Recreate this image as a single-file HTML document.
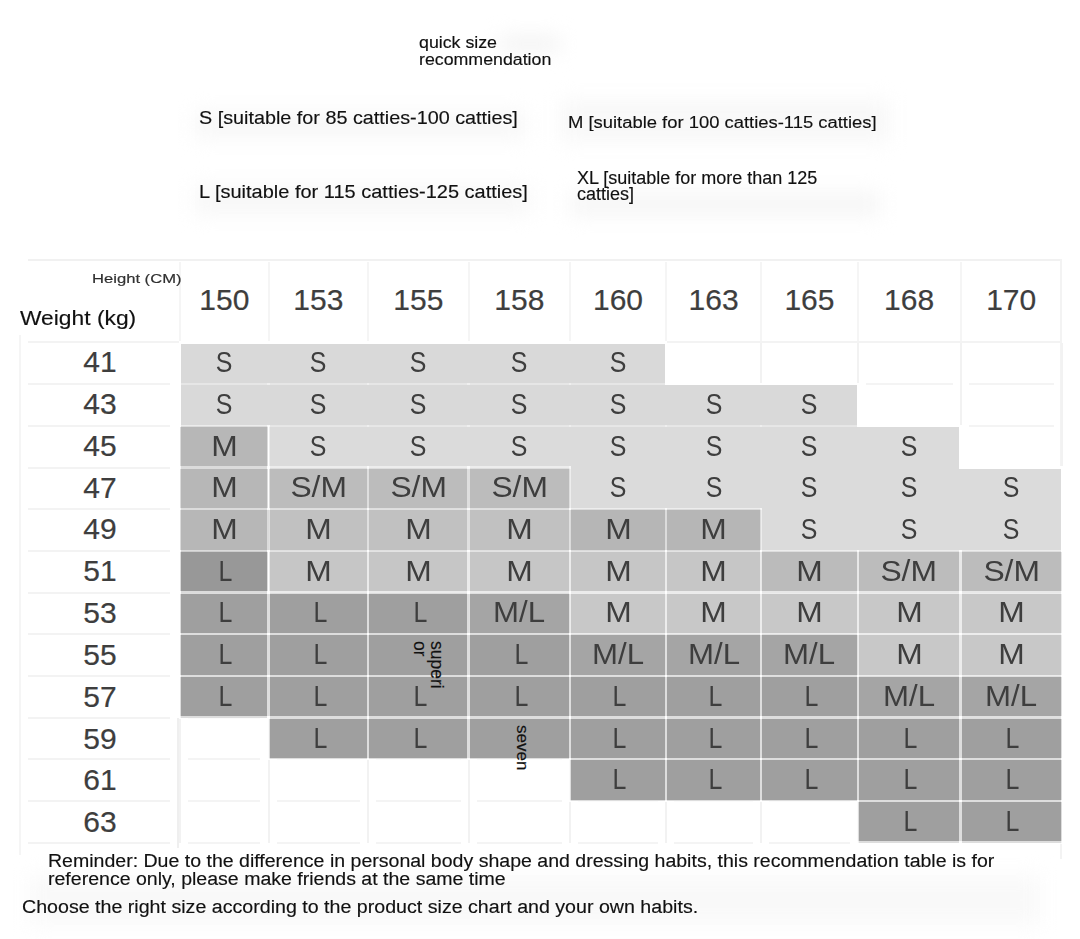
<!DOCTYPE html><html><head><meta charset="utf-8"><style>
*{margin:0;padding:0;box-sizing:border-box}
html,body{width:1080px;height:939px;background:#fff;overflow:hidden;position:relative;font-family:"Liberation Sans",sans-serif}
.c{position:absolute}
.t{position:absolute;white-space:nowrap;color:#3e3e3e;font-size:30px;line-height:30px;text-align:center;-webkit-text-stroke:0px #383838}
.t span{display:inline-block}
.d{-webkit-text-stroke:0.2px #383838}
.o{position:absolute;white-space:nowrap;color:#111;transform-origin:0 0;-webkit-text-stroke:0.15px #111}
.ln{position:absolute;background:#fff}
.fl{position:absolute;background:#f1f1f1}
</style></head><body>
<div class="fl" style="left:177px;top:718px;width:2px;height:130px;background:#efefef"></div>
<div class="fl" style="left:195px;top:112px;width:330px;height:26px;background:#f7f7f7;filter:blur(10px)"></div>
<div class="fl" style="left:195px;top:186px;width:335px;height:28px;background:#f7f7f7;filter:blur(10px)"></div>
<div class="fl" style="left:560px;top:100px;width:330px;height:42px;background:#f8f8f8;filter:blur(10px)"></div>
<div class="fl" style="left:570px;top:192px;width:310px;height:24px;background:#f6f6f6;filter:blur(10px)"></div>
<div class="fl" style="left:500px;top:38px;width:60px;height:12px;background:#efefef;filter:blur(10px)"></div>
<div class="fl" style="left:30px;top:875px;width:1010px;height:50px;background:#f9f9f9;filter:blur(10px)"></div>
<div class="fl" style="left:28px;top:259px;width:1034px;height:2px"></div>
<div class="fl" style="left:179.2px;top:262px;width:2px;height:80px;background:#f5f5f5"></div>
<div class="fl" style="left:267.5px;top:262px;width:2px;height:80px;background:#f5f5f5"></div>
<div class="fl" style="left:367.2px;top:262px;width:2px;height:80px;background:#f5f5f5"></div>
<div class="fl" style="left:467.6px;top:262px;width:2px;height:80px;background:#f5f5f5"></div>
<div class="fl" style="left:569.1px;top:262px;width:2px;height:80px;background:#f5f5f5"></div>
<div class="fl" style="left:665.0px;top:262px;width:2px;height:80px;background:#f5f5f5"></div>
<div class="fl" style="left:760.2px;top:262px;width:2px;height:80px;background:#f5f5f5"></div>
<div class="fl" style="left:856.7px;top:262px;width:2px;height:80px;background:#f5f5f5"></div>
<div class="fl" style="left:959.6px;top:262px;width:2px;height:80px;background:#f5f5f5"></div>
<div class="fl" style="left:1060px;top:259px;width:2px;height:600px;background:#f3f3f3"></div>
<div class="fl" style="left:19px;top:335px;width:2px;height:520px;background:#f5f5f5"></div>
<div class="fl" style="left:28px;top:383.18px;width:142px;height:2px;background:#f3f3f3"></div>
<div class="fl" style="left:28px;top:424.86px;width:142px;height:2px;background:#f3f3f3"></div>
<div class="fl" style="left:28px;top:466.54px;width:142px;height:2px;background:#f3f3f3"></div>
<div class="fl" style="left:28px;top:508.22px;width:142px;height:2px;background:#f3f3f3"></div>
<div class="fl" style="left:28px;top:549.9px;width:142px;height:2px;background:#f3f3f3"></div>
<div class="fl" style="left:28px;top:591.58px;width:142px;height:2px;background:#f3f3f3"></div>
<div class="fl" style="left:28px;top:633.26px;width:142px;height:2px;background:#f3f3f3"></div>
<div class="fl" style="left:28px;top:674.94px;width:142px;height:2px;background:#f3f3f3"></div>
<div class="fl" style="left:28px;top:716.62px;width:142px;height:2px;background:#f3f3f3"></div>
<div class="fl" style="left:28px;top:758.3px;width:142px;height:2px;background:#f3f3f3"></div>
<div class="fl" style="left:28px;top:799.98px;width:142px;height:2px;background:#f3f3f3"></div>
<div class="fl" style="left:28px;top:841.66px;width:142px;height:2px;background:#f3f3f3"></div>
<div class="fl" style="left:28px;top:340.5px;width:1034px;height:2px;background:#f3f3f3"></div>
<div class="fl" style="left:665.0px;top:342.5px;width:2px;height:41.68px;background:#f2f2f2"></div>
<div class="fl" style="left:760.2px;top:342.5px;width:2px;height:41.68px;background:#f2f2f2"></div>
<div class="fl" style="left:856.7px;top:342.5px;width:2px;height:41.68px;background:#f2f2f2"></div>
<div class="fl" style="left:959.6px;top:342.5px;width:2px;height:41.68px;background:#f2f2f2"></div>
<div class="fl" style="left:1060.8px;top:342.5px;width:2px;height:41.68px;background:#f2f2f2"></div>
<div class="fl" style="left:856.7px;top:384.18px;width:2px;height:41.68px;background:#f2f2f2"></div>
<div class="fl" style="left:959.6px;top:384.18px;width:2px;height:41.68px;background:#f2f2f2"></div>
<div class="fl" style="left:1060.8px;top:384.18px;width:2px;height:41.68px;background:#f2f2f2"></div>
<div class="fl" style="left:959.6px;top:425.86px;width:2px;height:41.68px;background:#f2f2f2"></div>
<div class="fl" style="left:1060.8px;top:425.86px;width:2px;height:41.68px;background:#f2f2f2"></div>
<div class="fl" style="left:179.2px;top:717.62px;width:2px;height:41.68px;background:#f2f2f2"></div>
<div class="fl" style="left:267.5px;top:717.62px;width:2px;height:41.68px;background:#f2f2f2"></div>
<div class="fl" style="left:179.2px;top:759.3px;width:2px;height:41.68px;background:#f2f2f2"></div>
<div class="fl" style="left:267.5px;top:759.3px;width:2px;height:41.68px;background:#f2f2f2"></div>
<div class="fl" style="left:367.2px;top:759.3px;width:2px;height:41.68px;background:#f2f2f2"></div>
<div class="fl" style="left:467.6px;top:759.3px;width:2px;height:41.68px;background:#f2f2f2"></div>
<div class="fl" style="left:569.1px;top:759.3px;width:2px;height:41.68px;background:#f2f2f2"></div>
<div class="fl" style="left:179.2px;top:800.98px;width:2px;height:41.68px;background:#f2f2f2"></div>
<div class="fl" style="left:267.5px;top:800.98px;width:2px;height:41.68px;background:#f2f2f2"></div>
<div class="fl" style="left:367.2px;top:800.98px;width:2px;height:41.68px;background:#f2f2f2"></div>
<div class="fl" style="left:467.6px;top:800.98px;width:2px;height:41.68px;background:#f2f2f2"></div>
<div class="fl" style="left:569.1px;top:800.98px;width:2px;height:41.68px;background:#f2f2f2"></div>
<div class="fl" style="left:665.0px;top:800.98px;width:2px;height:41.68px;background:#f2f2f2"></div>
<div class="fl" style="left:760.2px;top:800.98px;width:2px;height:41.68px;background:#f2f2f2"></div>
<div class="fl" style="left:856.7px;top:800.98px;width:2px;height:41.68px;background:#f2f2f2"></div>
<div class="fl" style="left:674.0px;top:383.18px;width:79.2px;height:2px;background:#f4f4f4"></div>
<div class="fl" style="left:769.2px;top:383.18px;width:80.5px;height:2px;background:#f4f4f4"></div>
<div class="fl" style="left:865.7px;top:383.18px;width:86.9px;height:2px;background:#f4f4f4"></div>
<div class="fl" style="left:968.6px;top:383.18px;width:85.2px;height:2px;background:#f4f4f4"></div>
<div class="fl" style="left:865.7px;top:424.86px;width:86.9px;height:2px;background:#f4f4f4"></div>
<div class="fl" style="left:968.6px;top:424.86px;width:85.2px;height:2px;background:#f4f4f4"></div>
<div class="fl" style="left:968.6px;top:466.54px;width:85.2px;height:2px;background:#f4f4f4"></div>
<div class="fl" style="left:188.2px;top:716.62px;width:72.3px;height:2px;background:#f4f4f4"></div>
<div class="fl" style="left:188.2px;top:758.3px;width:72.3px;height:2px;background:#f4f4f4"></div>
<div class="fl" style="left:276.5px;top:758.3px;width:83.7px;height:2px;background:#f4f4f4"></div>
<div class="fl" style="left:376.2px;top:758.3px;width:84.4px;height:2px;background:#f4f4f4"></div>
<div class="fl" style="left:476.6px;top:758.3px;width:85.5px;height:2px;background:#f4f4f4"></div>
<div class="fl" style="left:188.2px;top:799.98px;width:72.3px;height:2px;background:#f4f4f4"></div>
<div class="fl" style="left:276.5px;top:799.98px;width:83.7px;height:2px;background:#f4f4f4"></div>
<div class="fl" style="left:376.2px;top:799.98px;width:84.4px;height:2px;background:#f4f4f4"></div>
<div class="fl" style="left:476.6px;top:799.98px;width:85.5px;height:2px;background:#f4f4f4"></div>
<div class="fl" style="left:578.1px;top:799.98px;width:79.9px;height:2px;background:#f4f4f4"></div>
<div class="fl" style="left:674.0px;top:799.98px;width:79.2px;height:2px;background:#f4f4f4"></div>
<div class="fl" style="left:769.2px;top:799.98px;width:80.5px;height:2px;background:#f4f4f4"></div>
<div class="fl" style="left:188.2px;top:841.66px;width:72.3px;height:2px;background:#f4f4f4"></div>
<div class="fl" style="left:276.5px;top:841.66px;width:83.7px;height:2px;background:#f4f4f4"></div>
<div class="fl" style="left:376.2px;top:841.66px;width:84.4px;height:2px;background:#f4f4f4"></div>
<div class="fl" style="left:476.6px;top:841.66px;width:85.5px;height:2px;background:#f4f4f4"></div>
<div class="fl" style="left:578.1px;top:841.66px;width:79.9px;height:2px;background:#f4f4f4"></div>
<div class="fl" style="left:674.0px;top:841.66px;width:79.2px;height:2px;background:#f4f4f4"></div>
<div class="fl" style="left:769.2px;top:841.66px;width:80.5px;height:2px;background:#f4f4f4"></div>
<div class="c" style="left:180.2px;top:342.5px;width:89.3px;height:42.68px;background:#d9d9d9"></div>
<div class="c" style="left:268.5px;top:342.5px;width:100.7px;height:42.68px;background:#d9d9d9"></div>
<div class="c" style="left:368.2px;top:342.5px;width:101.4px;height:42.68px;background:#d9d9d9"></div>
<div class="c" style="left:468.6px;top:342.5px;width:102.5px;height:42.68px;background:#d9d9d9"></div>
<div class="c" style="left:570.1px;top:342.5px;width:95.9px;height:42.68px;background:#d9d9d9"></div>
<div class="c" style="left:180.2px;top:384.18px;width:89.3px;height:41.68px;background:#d9d9d9"></div>
<div class="c" style="left:268.5px;top:384.18px;width:100.7px;height:42.68px;background:#d9d9d9"></div>
<div class="c" style="left:368.2px;top:384.18px;width:101.4px;height:42.68px;background:#d9d9d9"></div>
<div class="c" style="left:468.6px;top:384.18px;width:102.5px;height:42.68px;background:#d9d9d9"></div>
<div class="c" style="left:570.1px;top:384.18px;width:96.9px;height:42.68px;background:#d9d9d9"></div>
<div class="c" style="left:666.0px;top:384.18px;width:96.2px;height:42.68px;background:#d9d9d9"></div>
<div class="c" style="left:761.2px;top:384.18px;width:96.5px;height:42.68px;background:#d9d9d9"></div>
<div class="c" style="left:180.2px;top:425.86px;width:88.3px;height:42.68px;background:#b7b7b7"></div>
<div class="c" style="left:268.5px;top:425.86px;width:100.7px;height:41.68px;background:#dbdbdb"></div>
<div class="c" style="left:368.2px;top:425.86px;width:101.4px;height:41.68px;background:#dbdbdb"></div>
<div class="c" style="left:468.6px;top:425.86px;width:102.5px;height:41.68px;background:#dbdbdb"></div>
<div class="c" style="left:570.1px;top:425.86px;width:96.9px;height:42.68px;background:#dbdbdb"></div>
<div class="c" style="left:666.0px;top:425.86px;width:96.2px;height:42.68px;background:#dbdbdb"></div>
<div class="c" style="left:761.2px;top:425.86px;width:97.5px;height:42.68px;background:#dbdbdb"></div>
<div class="c" style="left:857.7px;top:425.86px;width:102.9px;height:42.68px;background:#dbdbdb"></div>
<div class="c" style="left:180.2px;top:467.54px;width:88.3px;height:42.68px;background:#b7b7b7"></div>
<div class="c" style="left:268.5px;top:467.54px;width:100.7px;height:41.68px;background:#bcbcbc"></div>
<div class="c" style="left:368.2px;top:467.54px;width:101.4px;height:41.68px;background:#bcbcbc"></div>
<div class="c" style="left:468.6px;top:467.54px;width:101.5px;height:41.68px;background:#bcbcbc"></div>
<div class="c" style="left:570.1px;top:467.54px;width:96.9px;height:41.68px;background:#dbdbdb"></div>
<div class="c" style="left:666.0px;top:467.54px;width:96.2px;height:41.68px;background:#dbdbdb"></div>
<div class="c" style="left:761.2px;top:467.54px;width:97.5px;height:42.68px;background:#dbdbdb"></div>
<div class="c" style="left:857.7px;top:467.54px;width:103.9px;height:42.68px;background:#dbdbdb"></div>
<div class="c" style="left:960.6px;top:467.54px;width:101.2px;height:42.68px;background:#dbdbdb"></div>
<div class="c" style="left:180.2px;top:509.22px;width:89.3px;height:41.68px;background:#b7b7b7"></div>
<div class="c" style="left:268.5px;top:509.22px;width:100.7px;height:42.68px;background:#c1c1c1"></div>
<div class="c" style="left:368.2px;top:509.22px;width:101.4px;height:42.68px;background:#c1c1c1"></div>
<div class="c" style="left:468.6px;top:509.22px;width:102.5px;height:42.68px;background:#c1c1c1"></div>
<div class="c" style="left:570.1px;top:509.22px;width:96.9px;height:42.68px;background:#b6b6b6"></div>
<div class="c" style="left:666.0px;top:509.22px;width:95.2px;height:42.68px;background:#b6b6b6"></div>
<div class="c" style="left:761.2px;top:509.22px;width:97.5px;height:41.68px;background:#dbdbdb"></div>
<div class="c" style="left:857.7px;top:509.22px;width:103.9px;height:41.68px;background:#dbdbdb"></div>
<div class="c" style="left:960.6px;top:509.22px;width:101.2px;height:41.68px;background:#dbdbdb"></div>
<div class="c" style="left:180.2px;top:550.9px;width:88.3px;height:42.68px;background:#989898"></div>
<div class="c" style="left:268.5px;top:550.9px;width:100.7px;height:41.68px;background:#c6c6c6"></div>
<div class="c" style="left:368.2px;top:550.9px;width:101.4px;height:41.68px;background:#c6c6c6"></div>
<div class="c" style="left:468.6px;top:550.9px;width:102.5px;height:41.68px;background:#c6c6c6"></div>
<div class="c" style="left:570.1px;top:550.9px;width:96.9px;height:42.68px;background:#c6c6c6"></div>
<div class="c" style="left:666.0px;top:550.9px;width:96.2px;height:42.68px;background:#c6c6c6"></div>
<div class="c" style="left:761.2px;top:550.9px;width:96.5px;height:42.68px;background:#bbbbbb"></div>
<div class="c" style="left:857.7px;top:550.9px;width:103.9px;height:41.68px;background:#bcbcbc"></div>
<div class="c" style="left:960.6px;top:550.9px;width:101.2px;height:41.68px;background:#bcbcbc"></div>
<div class="c" style="left:180.2px;top:592.58px;width:89.3px;height:42.68px;background:#9f9f9f"></div>
<div class="c" style="left:268.5px;top:592.58px;width:100.7px;height:42.68px;background:#9f9f9f"></div>
<div class="c" style="left:368.2px;top:592.58px;width:100.4px;height:41.68px;background:#9f9f9f"></div>
<div class="c" style="left:468.6px;top:592.58px;width:101.5px;height:41.68px;background:#a5a5a5"></div>
<div class="c" style="left:570.1px;top:592.58px;width:96.9px;height:41.68px;background:#c8c8c8"></div>
<div class="c" style="left:666.0px;top:592.58px;width:96.2px;height:41.68px;background:#c8c8c8"></div>
<div class="c" style="left:761.2px;top:592.58px;width:97.5px;height:41.68px;background:#c8c8c8"></div>
<div class="c" style="left:857.7px;top:592.58px;width:103.9px;height:42.68px;background:#c8c8c8"></div>
<div class="c" style="left:960.6px;top:592.58px;width:101.2px;height:42.68px;background:#c8c8c8"></div>
<div class="c" style="left:180.2px;top:634.26px;width:89.3px;height:42.68px;background:#9f9f9f"></div>
<div class="c" style="left:268.5px;top:634.26px;width:99.7px;height:42.68px;background:#9f9f9f"></div>
<div class="c" style="left:368.2px;top:634.26px;width:100.4px;height:41.68px;background:#9f9f9f"></div>
<div class="c" style="left:468.6px;top:634.26px;width:101.5px;height:42.68px;background:#9f9f9f"></div>
<div class="c" style="left:570.1px;top:634.26px;width:96.9px;height:41.68px;background:#a5a5a5"></div>
<div class="c" style="left:666.0px;top:634.26px;width:96.2px;height:41.68px;background:#a5a5a5"></div>
<div class="c" style="left:761.2px;top:634.26px;width:96.5px;height:41.68px;background:#a5a5a5"></div>
<div class="c" style="left:857.7px;top:634.26px;width:103.9px;height:41.68px;background:#c8c8c8"></div>
<div class="c" style="left:960.6px;top:634.26px;width:101.2px;height:41.68px;background:#c8c8c8"></div>
<div class="c" style="left:180.2px;top:675.94px;width:89.3px;height:41.68px;background:#9f9f9f"></div>
<div class="c" style="left:268.5px;top:675.94px;width:100.7px;height:42.68px;background:#9f9f9f"></div>
<div class="c" style="left:368.2px;top:675.94px;width:101.4px;height:42.68px;background:#9f9f9f"></div>
<div class="c" style="left:468.6px;top:675.94px;width:102.5px;height:41.68px;background:#9f9f9f"></div>
<div class="c" style="left:570.1px;top:675.94px;width:96.9px;height:42.68px;background:#9f9f9f"></div>
<div class="c" style="left:666.0px;top:675.94px;width:96.2px;height:42.68px;background:#9f9f9f"></div>
<div class="c" style="left:761.2px;top:675.94px;width:96.5px;height:42.68px;background:#9f9f9f"></div>
<div class="c" style="left:857.7px;top:675.94px;width:103.9px;height:41.68px;background:#a5a5a5"></div>
<div class="c" style="left:960.6px;top:675.94px;width:101.2px;height:41.68px;background:#a5a5a5"></div>
<div class="c" style="left:268.5px;top:717.62px;width:100.7px;height:41.68px;background:#9f9f9f"></div>
<div class="c" style="left:368.2px;top:717.62px;width:100.4px;height:41.68px;background:#9f9f9f"></div>
<div class="c" style="left:468.6px;top:717.62px;width:101.5px;height:41.68px;background:#9f9f9f"></div>
<div class="c" style="left:570.1px;top:717.62px;width:96.9px;height:42.68px;background:#9f9f9f"></div>
<div class="c" style="left:666.0px;top:717.62px;width:96.2px;height:42.68px;background:#9f9f9f"></div>
<div class="c" style="left:761.2px;top:717.62px;width:97.5px;height:42.68px;background:#9f9f9f"></div>
<div class="c" style="left:857.7px;top:717.62px;width:103.9px;height:42.68px;background:#9f9f9f"></div>
<div class="c" style="left:960.6px;top:717.62px;width:101.2px;height:42.68px;background:#9f9f9f"></div>
<div class="c" style="left:570.1px;top:759.3px;width:96.9px;height:41.68px;background:#9f9f9f"></div>
<div class="c" style="left:666.0px;top:759.3px;width:96.2px;height:41.68px;background:#9f9f9f"></div>
<div class="c" style="left:761.2px;top:759.3px;width:97.5px;height:41.68px;background:#9f9f9f"></div>
<div class="c" style="left:857.7px;top:759.3px;width:103.9px;height:42.68px;background:#9f9f9f"></div>
<div class="c" style="left:960.6px;top:759.3px;width:101.2px;height:42.68px;background:#9f9f9f"></div>
<div class="c" style="left:857.7px;top:800.98px;width:103.9px;height:41.68px;background:#9f9f9f"></div>
<div class="c" style="left:960.6px;top:800.98px;width:101.2px;height:41.68px;background:#9f9f9f"></div>
<div class="ln" style="left:179.0px;top:341.3px;width:90.7px;height:2.4px;opacity:1"></div>
<div class="ln" style="left:267.3px;top:341.3px;width:102.1px;height:2.4px;opacity:1"></div>
<div class="ln" style="left:367.0px;top:341.3px;width:102.8px;height:2.4px;opacity:1"></div>
<div class="ln" style="left:467.4px;top:341.3px;width:103.9px;height:2.4px;opacity:1"></div>
<div class="ln" style="left:568.9px;top:341.3px;width:98.3px;height:2.4px;opacity:1"></div>
<div class="ln" style="left:179.0px;top:382.98px;width:90.7px;height:2.4px;opacity:0.35"></div>
<div class="ln" style="left:267.3px;top:382.98px;width:102.1px;height:2.4px;opacity:0.35"></div>
<div class="ln" style="left:367.0px;top:382.98px;width:102.8px;height:2.4px;opacity:0.35"></div>
<div class="ln" style="left:467.4px;top:382.98px;width:103.9px;height:2.4px;opacity:0.35"></div>
<div class="ln" style="left:568.9px;top:382.98px;width:98.3px;height:2.4px;opacity:0.35"></div>
<div class="ln" style="left:664.8px;top:382.98px;width:97.6px;height:2.4px;opacity:1"></div>
<div class="ln" style="left:760.0px;top:382.98px;width:98.9px;height:2.4px;opacity:1"></div>
<div class="ln" style="left:179.0px;top:424.66px;width:90.7px;height:2.4px;opacity:0.5"></div>
<div class="ln" style="left:267.3px;top:424.66px;width:102.1px;height:2.4px;opacity:0.35"></div>
<div class="ln" style="left:367.0px;top:424.66px;width:102.8px;height:2.4px;opacity:0.35"></div>
<div class="ln" style="left:467.4px;top:424.66px;width:103.9px;height:2.4px;opacity:0.35"></div>
<div class="ln" style="left:568.9px;top:424.66px;width:98.3px;height:2.4px;opacity:0.35"></div>
<div class="ln" style="left:664.8px;top:424.66px;width:97.6px;height:2.4px;opacity:0.35"></div>
<div class="ln" style="left:760.0px;top:424.66px;width:98.9px;height:2.4px;opacity:0.35"></div>
<div class="ln" style="left:856.5px;top:424.66px;width:105.3px;height:2.4px;opacity:1"></div>
<div class="ln" style="left:179.0px;top:466.34px;width:90.7px;height:2.4px;opacity:0.5"></div>
<div class="ln" style="left:267.3px;top:466.34px;width:102.1px;height:2.4px;opacity:0.5"></div>
<div class="ln" style="left:367.0px;top:466.34px;width:102.8px;height:2.4px;opacity:0.5"></div>
<div class="ln" style="left:467.4px;top:466.34px;width:103.9px;height:2.4px;opacity:0.5"></div>
<div class="ln" style="left:959.4px;top:466.34px;width:103.6px;height:2.4px;opacity:1"></div>
<div class="ln" style="left:179.0px;top:508.02px;width:90.7px;height:2.4px;opacity:0.5"></div>
<div class="ln" style="left:267.3px;top:508.02px;width:102.1px;height:2.4px;opacity:0.5"></div>
<div class="ln" style="left:367.0px;top:508.02px;width:102.8px;height:2.4px;opacity:0.5"></div>
<div class="ln" style="left:467.4px;top:508.02px;width:103.9px;height:2.4px;opacity:0.5"></div>
<div class="ln" style="left:568.9px;top:508.02px;width:98.3px;height:2.4px;opacity:0.5"></div>
<div class="ln" style="left:664.8px;top:508.02px;width:97.6px;height:2.4px;opacity:0.5"></div>
<div class="ln" style="left:179.0px;top:549.7px;width:90.7px;height:2.4px;opacity:0.5"></div>
<div class="ln" style="left:267.3px;top:549.7px;width:102.1px;height:2.4px;opacity:0.5"></div>
<div class="ln" style="left:367.0px;top:549.7px;width:102.8px;height:2.4px;opacity:0.5"></div>
<div class="ln" style="left:467.4px;top:549.7px;width:103.9px;height:2.4px;opacity:0.5"></div>
<div class="ln" style="left:568.9px;top:549.7px;width:98.3px;height:2.4px;opacity:0.5"></div>
<div class="ln" style="left:664.8px;top:549.7px;width:97.6px;height:2.4px;opacity:0.5"></div>
<div class="ln" style="left:760.0px;top:549.7px;width:98.9px;height:2.4px;opacity:0.5"></div>
<div class="ln" style="left:856.5px;top:549.7px;width:105.3px;height:2.4px;opacity:0.5"></div>
<div class="ln" style="left:959.4px;top:549.7px;width:103.6px;height:2.4px;opacity:0.5"></div>
<div class="ln" style="left:179.0px;top:591.38px;width:90.7px;height:2.4px;opacity:0.65"></div>
<div class="ln" style="left:267.3px;top:591.38px;width:102.1px;height:2.4px;opacity:0.65"></div>
<div class="ln" style="left:367.0px;top:591.38px;width:102.8px;height:2.4px;opacity:0.65"></div>
<div class="ln" style="left:467.4px;top:591.38px;width:103.9px;height:2.4px;opacity:0.65"></div>
<div class="ln" style="left:568.9px;top:591.38px;width:98.3px;height:2.4px;opacity:0.65"></div>
<div class="ln" style="left:664.8px;top:591.38px;width:97.6px;height:2.4px;opacity:0.65"></div>
<div class="ln" style="left:760.0px;top:591.38px;width:98.9px;height:2.4px;opacity:0.65"></div>
<div class="ln" style="left:856.5px;top:591.38px;width:105.3px;height:2.4px;opacity:0.65"></div>
<div class="ln" style="left:959.4px;top:591.38px;width:103.6px;height:2.4px;opacity:0.65"></div>
<div class="ln" style="left:179.0px;top:633.06px;width:90.7px;height:2.4px;opacity:0.65"></div>
<div class="ln" style="left:267.3px;top:633.06px;width:102.1px;height:2.4px;opacity:0.65"></div>
<div class="ln" style="left:367.0px;top:633.06px;width:102.8px;height:2.4px;opacity:0.65"></div>
<div class="ln" style="left:467.4px;top:633.06px;width:103.9px;height:2.4px;opacity:0.65"></div>
<div class="ln" style="left:568.9px;top:633.06px;width:98.3px;height:2.4px;opacity:0.65"></div>
<div class="ln" style="left:664.8px;top:633.06px;width:97.6px;height:2.4px;opacity:0.65"></div>
<div class="ln" style="left:760.0px;top:633.06px;width:98.9px;height:2.4px;opacity:0.65"></div>
<div class="ln" style="left:856.5px;top:633.06px;width:105.3px;height:2.4px;opacity:0.65"></div>
<div class="ln" style="left:959.4px;top:633.06px;width:103.6px;height:2.4px;opacity:0.65"></div>
<div class="ln" style="left:179.0px;top:674.74px;width:90.7px;height:2.4px;opacity:0.65"></div>
<div class="ln" style="left:267.3px;top:674.74px;width:102.1px;height:2.4px;opacity:0.65"></div>
<div class="ln" style="left:367.0px;top:674.74px;width:102.8px;height:2.4px;opacity:0.65"></div>
<div class="ln" style="left:467.4px;top:674.74px;width:103.9px;height:2.4px;opacity:0.65"></div>
<div class="ln" style="left:568.9px;top:674.74px;width:98.3px;height:2.4px;opacity:0.65"></div>
<div class="ln" style="left:664.8px;top:674.74px;width:97.6px;height:2.4px;opacity:0.65"></div>
<div class="ln" style="left:760.0px;top:674.74px;width:98.9px;height:2.4px;opacity:0.65"></div>
<div class="ln" style="left:856.5px;top:674.74px;width:105.3px;height:2.4px;opacity:0.65"></div>
<div class="ln" style="left:959.4px;top:674.74px;width:103.6px;height:2.4px;opacity:0.65"></div>
<div class="ln" style="left:179.0px;top:716.42px;width:90.7px;height:2.4px;opacity:0.65"></div>
<div class="ln" style="left:267.3px;top:716.42px;width:102.1px;height:2.4px;opacity:0.65"></div>
<div class="ln" style="left:367.0px;top:716.42px;width:102.8px;height:2.4px;opacity:0.65"></div>
<div class="ln" style="left:467.4px;top:716.42px;width:103.9px;height:2.4px;opacity:0.65"></div>
<div class="ln" style="left:568.9px;top:716.42px;width:98.3px;height:2.4px;opacity:0.65"></div>
<div class="ln" style="left:664.8px;top:716.42px;width:97.6px;height:2.4px;opacity:0.65"></div>
<div class="ln" style="left:760.0px;top:716.42px;width:98.9px;height:2.4px;opacity:0.65"></div>
<div class="ln" style="left:856.5px;top:716.42px;width:105.3px;height:2.4px;opacity:0.65"></div>
<div class="ln" style="left:959.4px;top:716.42px;width:103.6px;height:2.4px;opacity:0.65"></div>
<div class="ln" style="left:267.3px;top:758.1px;width:102.1px;height:2.4px;opacity:0.65"></div>
<div class="ln" style="left:367.0px;top:758.1px;width:102.8px;height:2.4px;opacity:0.65"></div>
<div class="ln" style="left:467.4px;top:758.1px;width:103.9px;height:2.4px;opacity:0.65"></div>
<div class="ln" style="left:568.9px;top:758.1px;width:98.3px;height:2.4px;opacity:0.65"></div>
<div class="ln" style="left:664.8px;top:758.1px;width:97.6px;height:2.4px;opacity:0.65"></div>
<div class="ln" style="left:760.0px;top:758.1px;width:98.9px;height:2.4px;opacity:0.65"></div>
<div class="ln" style="left:856.5px;top:758.1px;width:105.3px;height:2.4px;opacity:0.65"></div>
<div class="ln" style="left:959.4px;top:758.1px;width:103.6px;height:2.4px;opacity:0.65"></div>
<div class="ln" style="left:568.9px;top:799.78px;width:98.3px;height:2.4px;opacity:0.65"></div>
<div class="ln" style="left:664.8px;top:799.78px;width:97.6px;height:2.4px;opacity:0.65"></div>
<div class="ln" style="left:760.0px;top:799.78px;width:98.9px;height:2.4px;opacity:0.65"></div>
<div class="ln" style="left:856.5px;top:799.78px;width:105.3px;height:2.4px;opacity:0.65"></div>
<div class="ln" style="left:959.4px;top:799.78px;width:103.6px;height:2.4px;opacity:0.65"></div>
<div class="ln" style="left:856.5px;top:841.46px;width:105.3px;height:2.4px;opacity:0.65"></div>
<div class="ln" style="left:959.4px;top:841.46px;width:103.6px;height:2.4px;opacity:0.65"></div>
<div class="ln" style="left:179.0px;top:341.3px;width:2.4px;height:44.08px;opacity:1"></div>
<div class="ln" style="left:664.8px;top:341.3px;width:2.4px;height:44.08px;opacity:1"></div>
<div class="ln" style="left:179.0px;top:382.98px;width:2.4px;height:44.08px;opacity:1"></div>
<div class="ln" style="left:856.5px;top:382.98px;width:2.4px;height:44.08px;opacity:1"></div>
<div class="ln" style="left:179.0px;top:424.66px;width:2.4px;height:44.08px;opacity:0.5"></div>
<div class="ln" style="left:267.3px;top:424.66px;width:2.4px;height:44.08px;opacity:0.5"></div>
<div class="ln" style="left:959.4px;top:424.66px;width:2.4px;height:44.08px;opacity:1"></div>
<div class="ln" style="left:179.0px;top:466.34px;width:2.4px;height:44.08px;opacity:0.5"></div>
<div class="ln" style="left:267.3px;top:466.34px;width:2.4px;height:44.08px;opacity:0.5"></div>
<div class="ln" style="left:367.0px;top:466.34px;width:2.4px;height:44.08px;opacity:0.5"></div>
<div class="ln" style="left:467.4px;top:466.34px;width:2.4px;height:44.08px;opacity:0.5"></div>
<div class="ln" style="left:568.9px;top:466.34px;width:2.4px;height:44.08px;opacity:0.5"></div>
<div class="ln" style="left:1060.6px;top:466.34px;width:2.4px;height:44.08px;opacity:1"></div>
<div class="ln" style="left:179.0px;top:508.02px;width:2.4px;height:44.08px;opacity:0.5"></div>
<div class="ln" style="left:267.3px;top:508.02px;width:2.4px;height:44.08px;opacity:0.5"></div>
<div class="ln" style="left:367.0px;top:508.02px;width:2.4px;height:44.08px;opacity:0.5"></div>
<div class="ln" style="left:467.4px;top:508.02px;width:2.4px;height:44.08px;opacity:0.5"></div>
<div class="ln" style="left:568.9px;top:508.02px;width:2.4px;height:44.08px;opacity:0.5"></div>
<div class="ln" style="left:664.8px;top:508.02px;width:2.4px;height:44.08px;opacity:0.5"></div>
<div class="ln" style="left:760.0px;top:508.02px;width:2.4px;height:44.08px;opacity:0.5"></div>
<div class="ln" style="left:1060.6px;top:508.02px;width:2.4px;height:44.08px;opacity:1"></div>
<div class="ln" style="left:179.0px;top:549.7px;width:2.4px;height:44.08px;opacity:0.65"></div>
<div class="ln" style="left:267.3px;top:549.7px;width:2.4px;height:44.08px;opacity:0.65"></div>
<div class="ln" style="left:367.0px;top:549.7px;width:2.4px;height:44.08px;opacity:0.65"></div>
<div class="ln" style="left:467.4px;top:549.7px;width:2.4px;height:44.08px;opacity:0.65"></div>
<div class="ln" style="left:568.9px;top:549.7px;width:2.4px;height:44.08px;opacity:0.65"></div>
<div class="ln" style="left:664.8px;top:549.7px;width:2.4px;height:44.08px;opacity:0.65"></div>
<div class="ln" style="left:760.0px;top:549.7px;width:2.4px;height:44.08px;opacity:0.65"></div>
<div class="ln" style="left:856.5px;top:549.7px;width:2.4px;height:44.08px;opacity:0.65"></div>
<div class="ln" style="left:959.4px;top:549.7px;width:2.4px;height:44.08px;opacity:0.65"></div>
<div class="ln" style="left:1060.6px;top:549.7px;width:2.4px;height:44.08px;opacity:0.65"></div>
<div class="ln" style="left:179.0px;top:591.38px;width:2.4px;height:44.08px;opacity:0.65"></div>
<div class="ln" style="left:267.3px;top:591.38px;width:2.4px;height:44.08px;opacity:0.65"></div>
<div class="ln" style="left:367.0px;top:591.38px;width:2.4px;height:44.08px;opacity:0.65"></div>
<div class="ln" style="left:467.4px;top:591.38px;width:2.4px;height:44.08px;opacity:0.65"></div>
<div class="ln" style="left:568.9px;top:591.38px;width:2.4px;height:44.08px;opacity:0.65"></div>
<div class="ln" style="left:664.8px;top:591.38px;width:2.4px;height:44.08px;opacity:0.65"></div>
<div class="ln" style="left:760.0px;top:591.38px;width:2.4px;height:44.08px;opacity:0.65"></div>
<div class="ln" style="left:856.5px;top:591.38px;width:2.4px;height:44.08px;opacity:0.65"></div>
<div class="ln" style="left:959.4px;top:591.38px;width:2.4px;height:44.08px;opacity:0.65"></div>
<div class="ln" style="left:1060.6px;top:591.38px;width:2.4px;height:44.08px;opacity:0.65"></div>
<div class="ln" style="left:179.0px;top:633.06px;width:2.4px;height:44.08px;opacity:0.65"></div>
<div class="ln" style="left:267.3px;top:633.06px;width:2.4px;height:44.08px;opacity:0.65"></div>
<div class="ln" style="left:367.0px;top:633.06px;width:2.4px;height:44.08px;opacity:0.65"></div>
<div class="ln" style="left:467.4px;top:633.06px;width:2.4px;height:44.08px;opacity:0.65"></div>
<div class="ln" style="left:568.9px;top:633.06px;width:2.4px;height:44.08px;opacity:0.65"></div>
<div class="ln" style="left:664.8px;top:633.06px;width:2.4px;height:44.08px;opacity:0.65"></div>
<div class="ln" style="left:760.0px;top:633.06px;width:2.4px;height:44.08px;opacity:0.65"></div>
<div class="ln" style="left:856.5px;top:633.06px;width:2.4px;height:44.08px;opacity:0.65"></div>
<div class="ln" style="left:959.4px;top:633.06px;width:2.4px;height:44.08px;opacity:0.65"></div>
<div class="ln" style="left:1060.6px;top:633.06px;width:2.4px;height:44.08px;opacity:0.65"></div>
<div class="ln" style="left:179.0px;top:674.74px;width:2.4px;height:44.08px;opacity:0.65"></div>
<div class="ln" style="left:267.3px;top:674.74px;width:2.4px;height:44.08px;opacity:0.65"></div>
<div class="ln" style="left:367.0px;top:674.74px;width:2.4px;height:44.08px;opacity:0.65"></div>
<div class="ln" style="left:467.4px;top:674.74px;width:2.4px;height:44.08px;opacity:0.65"></div>
<div class="ln" style="left:568.9px;top:674.74px;width:2.4px;height:44.08px;opacity:0.65"></div>
<div class="ln" style="left:664.8px;top:674.74px;width:2.4px;height:44.08px;opacity:0.65"></div>
<div class="ln" style="left:760.0px;top:674.74px;width:2.4px;height:44.08px;opacity:0.65"></div>
<div class="ln" style="left:856.5px;top:674.74px;width:2.4px;height:44.08px;opacity:0.65"></div>
<div class="ln" style="left:959.4px;top:674.74px;width:2.4px;height:44.08px;opacity:0.65"></div>
<div class="ln" style="left:1060.6px;top:674.74px;width:2.4px;height:44.08px;opacity:0.65"></div>
<div class="ln" style="left:267.3px;top:716.42px;width:2.4px;height:44.08px;opacity:0.65"></div>
<div class="ln" style="left:367.0px;top:716.42px;width:2.4px;height:44.08px;opacity:0.65"></div>
<div class="ln" style="left:467.4px;top:716.42px;width:2.4px;height:44.08px;opacity:0.65"></div>
<div class="ln" style="left:568.9px;top:716.42px;width:2.4px;height:44.08px;opacity:0.65"></div>
<div class="ln" style="left:664.8px;top:716.42px;width:2.4px;height:44.08px;opacity:0.65"></div>
<div class="ln" style="left:760.0px;top:716.42px;width:2.4px;height:44.08px;opacity:0.65"></div>
<div class="ln" style="left:856.5px;top:716.42px;width:2.4px;height:44.08px;opacity:0.65"></div>
<div class="ln" style="left:959.4px;top:716.42px;width:2.4px;height:44.08px;opacity:0.65"></div>
<div class="ln" style="left:1060.6px;top:716.42px;width:2.4px;height:44.08px;opacity:0.65"></div>
<div class="ln" style="left:568.9px;top:758.1px;width:2.4px;height:44.08px;opacity:0.65"></div>
<div class="ln" style="left:664.8px;top:758.1px;width:2.4px;height:44.08px;opacity:0.65"></div>
<div class="ln" style="left:760.0px;top:758.1px;width:2.4px;height:44.08px;opacity:0.65"></div>
<div class="ln" style="left:856.5px;top:758.1px;width:2.4px;height:44.08px;opacity:0.65"></div>
<div class="ln" style="left:959.4px;top:758.1px;width:2.4px;height:44.08px;opacity:0.65"></div>
<div class="ln" style="left:1060.6px;top:758.1px;width:2.4px;height:44.08px;opacity:0.65"></div>
<div class="ln" style="left:856.5px;top:799.78px;width:2.4px;height:44.08px;opacity:0.65"></div>
<div class="ln" style="left:959.4px;top:799.78px;width:2.4px;height:44.08px;opacity:0.65"></div>
<div class="ln" style="left:1060.6px;top:799.78px;width:2.4px;height:44.08px;opacity:0.65"></div>
<div class="t" style="left:180.2px;top:347.41px;width:88.3px"><span style="transform:scaleX(0.83)">S</span></div>
<div class="t" style="left:268.5px;top:347.41px;width:99.7px"><span style="transform:scaleX(0.83)">S</span></div>
<div class="t" style="left:368.2px;top:347.41px;width:100.4px"><span style="transform:scaleX(0.83)">S</span></div>
<div class="t" style="left:468.6px;top:347.41px;width:101.5px"><span style="transform:scaleX(0.83)">S</span></div>
<div class="t" style="left:570.1px;top:347.41px;width:95.9px"><span style="transform:scaleX(0.83)">S</span></div>
<div class="t" style="left:180.2px;top:389.09px;width:88.3px"><span style="transform:scaleX(0.83)">S</span></div>
<div class="t" style="left:268.5px;top:389.09px;width:99.7px"><span style="transform:scaleX(0.83)">S</span></div>
<div class="t" style="left:368.2px;top:389.09px;width:100.4px"><span style="transform:scaleX(0.83)">S</span></div>
<div class="t" style="left:468.6px;top:389.09px;width:101.5px"><span style="transform:scaleX(0.83)">S</span></div>
<div class="t" style="left:570.1px;top:389.09px;width:95.9px"><span style="transform:scaleX(0.83)">S</span></div>
<div class="t" style="left:666.0px;top:389.09px;width:95.2px"><span style="transform:scaleX(0.83)">S</span></div>
<div class="t" style="left:761.2px;top:389.09px;width:96.5px"><span style="transform:scaleX(0.83)">S</span></div>
<div class="t" style="left:180.2px;top:430.77px;width:88.3px"><span style="transform:scaleX(1.06)">M</span></div>
<div class="t" style="left:268.5px;top:430.77px;width:99.7px"><span style="transform:scaleX(0.83)">S</span></div>
<div class="t" style="left:368.2px;top:430.77px;width:100.4px"><span style="transform:scaleX(0.83)">S</span></div>
<div class="t" style="left:468.6px;top:430.77px;width:101.5px"><span style="transform:scaleX(0.83)">S</span></div>
<div class="t" style="left:570.1px;top:430.77px;width:95.9px"><span style="transform:scaleX(0.83)">S</span></div>
<div class="t" style="left:666.0px;top:430.77px;width:95.2px"><span style="transform:scaleX(0.83)">S</span></div>
<div class="t" style="left:761.2px;top:430.77px;width:96.5px"><span style="transform:scaleX(0.83)">S</span></div>
<div class="t" style="left:857.7px;top:430.77px;width:102.9px"><span style="transform:scaleX(0.83)">S</span></div>
<div class="t" style="left:180.2px;top:472.45px;width:88.3px"><span style="transform:scaleX(1.06)">M</span></div>
<div class="t" style="left:268.5px;top:472.45px;width:99.7px"><span style="transform:scaleX(1.06)">S/M</span></div>
<div class="t" style="left:368.2px;top:472.45px;width:100.4px"><span style="transform:scaleX(1.06)">S/M</span></div>
<div class="t" style="left:468.6px;top:472.45px;width:101.5px"><span style="transform:scaleX(1.06)">S/M</span></div>
<div class="t" style="left:570.1px;top:472.45px;width:95.9px"><span style="transform:scaleX(0.83)">S</span></div>
<div class="t" style="left:666.0px;top:472.45px;width:95.2px"><span style="transform:scaleX(0.83)">S</span></div>
<div class="t" style="left:761.2px;top:472.45px;width:96.5px"><span style="transform:scaleX(0.83)">S</span></div>
<div class="t" style="left:857.7px;top:472.45px;width:102.9px"><span style="transform:scaleX(0.83)">S</span></div>
<div class="t" style="left:960.6px;top:472.45px;width:101.2px"><span style="transform:scaleX(0.83)">S</span></div>
<div class="t" style="left:180.2px;top:514.12px;width:88.3px"><span style="transform:scaleX(1.06)">M</span></div>
<div class="t" style="left:268.5px;top:514.12px;width:99.7px"><span style="transform:scaleX(1.06)">M</span></div>
<div class="t" style="left:368.2px;top:514.12px;width:100.4px"><span style="transform:scaleX(1.06)">M</span></div>
<div class="t" style="left:468.6px;top:514.12px;width:101.5px"><span style="transform:scaleX(1.06)">M</span></div>
<div class="t" style="left:570.1px;top:514.12px;width:95.9px"><span style="transform:scaleX(1.06)">M</span></div>
<div class="t" style="left:666.0px;top:514.12px;width:95.2px"><span style="transform:scaleX(1.06)">M</span></div>
<div class="t" style="left:761.2px;top:514.12px;width:96.5px"><span style="transform:scaleX(0.83)">S</span></div>
<div class="t" style="left:857.7px;top:514.12px;width:102.9px"><span style="transform:scaleX(0.83)">S</span></div>
<div class="t" style="left:960.6px;top:514.12px;width:101.2px"><span style="transform:scaleX(0.83)">S</span></div>
<div class="t" style="left:181.7px;top:555.8px;width:88.3px"><span style="transform:scaleX(0.83)">L</span></div>
<div class="t" style="left:268.5px;top:555.8px;width:99.7px"><span style="transform:scaleX(1.06)">M</span></div>
<div class="t" style="left:368.2px;top:555.8px;width:100.4px"><span style="transform:scaleX(1.06)">M</span></div>
<div class="t" style="left:468.6px;top:555.8px;width:101.5px"><span style="transform:scaleX(1.06)">M</span></div>
<div class="t" style="left:570.1px;top:555.8px;width:95.9px"><span style="transform:scaleX(1.06)">M</span></div>
<div class="t" style="left:666.0px;top:555.8px;width:95.2px"><span style="transform:scaleX(1.06)">M</span></div>
<div class="t" style="left:761.2px;top:555.8px;width:96.5px"><span style="transform:scaleX(1.06)">M</span></div>
<div class="t" style="left:857.7px;top:555.8px;width:102.9px"><span style="transform:scaleX(1.06)">S/M</span></div>
<div class="t" style="left:960.6px;top:555.8px;width:101.2px"><span style="transform:scaleX(1.06)">S/M</span></div>
<div class="t" style="left:181.7px;top:597.49px;width:88.3px"><span style="transform:scaleX(0.83)">L</span></div>
<div class="t" style="left:270.0px;top:597.49px;width:99.7px"><span style="transform:scaleX(0.83)">L</span></div>
<div class="t" style="left:369.7px;top:597.49px;width:100.4px"><span style="transform:scaleX(0.83)">L</span></div>
<div class="t" style="left:468.6px;top:597.49px;width:101.5px"><span style="transform:scaleX(1.04)">M/L</span></div>
<div class="t" style="left:570.1px;top:597.49px;width:95.9px"><span style="transform:scaleX(1.06)">M</span></div>
<div class="t" style="left:666.0px;top:597.49px;width:95.2px"><span style="transform:scaleX(1.06)">M</span></div>
<div class="t" style="left:761.2px;top:597.49px;width:96.5px"><span style="transform:scaleX(1.06)">M</span></div>
<div class="t" style="left:857.7px;top:597.49px;width:102.9px"><span style="transform:scaleX(1.06)">M</span></div>
<div class="t" style="left:960.6px;top:597.49px;width:101.2px"><span style="transform:scaleX(1.06)">M</span></div>
<div class="t" style="left:181.7px;top:639.16px;width:88.3px"><span style="transform:scaleX(0.83)">L</span></div>
<div class="t" style="left:270.0px;top:639.16px;width:99.7px"><span style="transform:scaleX(0.83)">L</span></div>
<div class="t" style="left:470.1px;top:639.16px;width:101.5px"><span style="transform:scaleX(0.83)">L</span></div>
<div class="t" style="left:570.1px;top:639.16px;width:95.9px"><span style="transform:scaleX(1.04)">M/L</span></div>
<div class="t" style="left:666.0px;top:639.16px;width:95.2px"><span style="transform:scaleX(1.04)">M/L</span></div>
<div class="t" style="left:761.2px;top:639.16px;width:96.5px"><span style="transform:scaleX(1.04)">M/L</span></div>
<div class="t" style="left:857.7px;top:639.16px;width:102.9px"><span style="transform:scaleX(1.06)">M</span></div>
<div class="t" style="left:960.6px;top:639.16px;width:101.2px"><span style="transform:scaleX(1.06)">M</span></div>
<div class="t" style="left:181.7px;top:680.85px;width:88.3px"><span style="transform:scaleX(0.83)">L</span></div>
<div class="t" style="left:270.0px;top:680.85px;width:99.7px"><span style="transform:scaleX(0.83)">L</span></div>
<div class="t" style="left:369.7px;top:680.85px;width:100.4px"><span style="transform:scaleX(0.83)">L</span></div>
<div class="t" style="left:470.1px;top:680.85px;width:101.5px"><span style="transform:scaleX(0.83)">L</span></div>
<div class="t" style="left:571.6px;top:680.85px;width:95.9px"><span style="transform:scaleX(0.83)">L</span></div>
<div class="t" style="left:667.5px;top:680.85px;width:95.2px"><span style="transform:scaleX(0.83)">L</span></div>
<div class="t" style="left:762.7px;top:680.85px;width:96.5px"><span style="transform:scaleX(0.83)">L</span></div>
<div class="t" style="left:857.7px;top:680.85px;width:102.9px"><span style="transform:scaleX(1.04)">M/L</span></div>
<div class="t" style="left:960.6px;top:680.85px;width:101.2px"><span style="transform:scaleX(1.04)">M/L</span></div>
<div class="t" style="left:270.0px;top:722.52px;width:99.7px"><span style="transform:scaleX(0.83)">L</span></div>
<div class="t" style="left:369.7px;top:722.52px;width:100.4px"><span style="transform:scaleX(0.83)">L</span></div>
<div class="t" style="left:571.6px;top:722.52px;width:95.9px"><span style="transform:scaleX(0.83)">L</span></div>
<div class="t" style="left:667.5px;top:722.52px;width:95.2px"><span style="transform:scaleX(0.83)">L</span></div>
<div class="t" style="left:762.7px;top:722.52px;width:96.5px"><span style="transform:scaleX(0.83)">L</span></div>
<div class="t" style="left:859.2px;top:722.52px;width:102.9px"><span style="transform:scaleX(0.83)">L</span></div>
<div class="t" style="left:962.1px;top:722.52px;width:101.2px"><span style="transform:scaleX(0.83)">L</span></div>
<div class="t" style="left:571.6px;top:764.2px;width:95.9px"><span style="transform:scaleX(0.83)">L</span></div>
<div class="t" style="left:667.5px;top:764.2px;width:95.2px"><span style="transform:scaleX(0.83)">L</span></div>
<div class="t" style="left:762.7px;top:764.2px;width:96.5px"><span style="transform:scaleX(0.83)">L</span></div>
<div class="t" style="left:859.2px;top:764.2px;width:102.9px"><span style="transform:scaleX(0.83)">L</span></div>
<div class="t" style="left:962.1px;top:764.2px;width:101.2px"><span style="transform:scaleX(0.83)">L</span></div>
<div class="t" style="left:859.2px;top:805.88px;width:102.9px"><span style="transform:scaleX(0.83)">L</span></div>
<div class="t" style="left:962.1px;top:805.88px;width:101.2px"><span style="transform:scaleX(0.83)">L</span></div>
<div class="t d" style="left:180.2px;top:285.21px;width:88.3px">150</div>
<div class="t d" style="left:268.5px;top:285.21px;width:99.7px">153</div>
<div class="t d" style="left:368.2px;top:285.21px;width:100.4px">155</div>
<div class="t d" style="left:468.6px;top:285.21px;width:101.5px">158</div>
<div class="t d" style="left:570.1px;top:285.21px;width:95.9px">160</div>
<div class="t d" style="left:666.0px;top:285.21px;width:95.2px">163</div>
<div class="t d" style="left:761.2px;top:285.21px;width:96.5px">165</div>
<div class="t d" style="left:857.7px;top:285.21px;width:102.9px">168</div>
<div class="t d" style="left:960.6px;top:285.21px;width:101.2px">170</div>
<div class="t d" style="left:60px;top:347.2px;width:80px">41</div>
<div class="t d" style="left:60px;top:389.02px;width:80px">43</div>
<div class="t d" style="left:60px;top:430.84px;width:80px">45</div>
<div class="t d" style="left:60px;top:472.66px;width:80px">47</div>
<div class="t d" style="left:60px;top:514.49px;width:80px">49</div>
<div class="t d" style="left:60px;top:556.3px;width:80px">51</div>
<div class="t d" style="left:60px;top:598.12px;width:80px">53</div>
<div class="t d" style="left:60px;top:639.95px;width:80px">55</div>
<div class="t d" style="left:60px;top:681.76px;width:80px">57</div>
<div class="t d" style="left:60px;top:723.58px;width:80px">59</div>
<div class="t d" style="left:60px;top:765.4px;width:80px">61</div>
<div class="t d" style="left:60px;top:807.23px;width:80px">63</div>
<div class="o" style="left:92px;top:272.27px;font-size:13.5px;line-height:13.5px;transform:scaleX(1.23);color:#333">Height (CM)</div>
<div class="o" style="left:19.5px;top:308.37px;font-size:20px;line-height:20px;transform:scaleX(1.14);">Weight (kg)</div>
<div class="o" style="left:418.5px;top:35.36px;font-size:16px;line-height:16.6px;transform:scaleX(1.11);">quick size<br>recommendation</div>
<div class="o" style="left:198.5px;top:108.02px;font-size:19px;line-height:19px;transform:scaleX(1.041);">S [suitable for 85 catties-100 catties]</div>
<div class="o" style="left:567.5px;top:114.06px;font-size:17.3px;line-height:17.3px;transform:scaleX(1.065);">M [suitable for 100 catties-115 catties]</div>
<div class="o" style="left:198.5px;top:182.22px;font-size:19px;line-height:19px;transform:scaleX(1.052);">L [suitable for 115 catties-125 catties]</div>
<div class="o" style="left:576.5px;top:171.39px;font-size:17.5px;line-height:15.9px;transform:scaleX(1.028);">XL [suitable for more than 125<br>catties]</div>
<div class="o" style="left:48px;top:851.71px;font-size:18px;line-height:18.5px;transform:scaleX(1.085);">Reminder: Due to the difference in personal body shape and dressing habits, this recommendation table is for<br>reference only, please make friends at the same time</div>
<div class="o" style="left:22px;top:898.26px;font-size:18px;line-height:18px;transform:scaleX(1.09);">Choose the right size according to the product size chart and your own habits.</div>
<div class="o" style="left:445px;top:641px;font-size:17.5px;line-height:16.5px;transform:rotate(90deg)">superi<br>or</div>
<div class="o" style="left:529.5px;top:725px;font-size:17px;line-height:16px;transform:rotate(90deg)">seven</div>
</body></html>
